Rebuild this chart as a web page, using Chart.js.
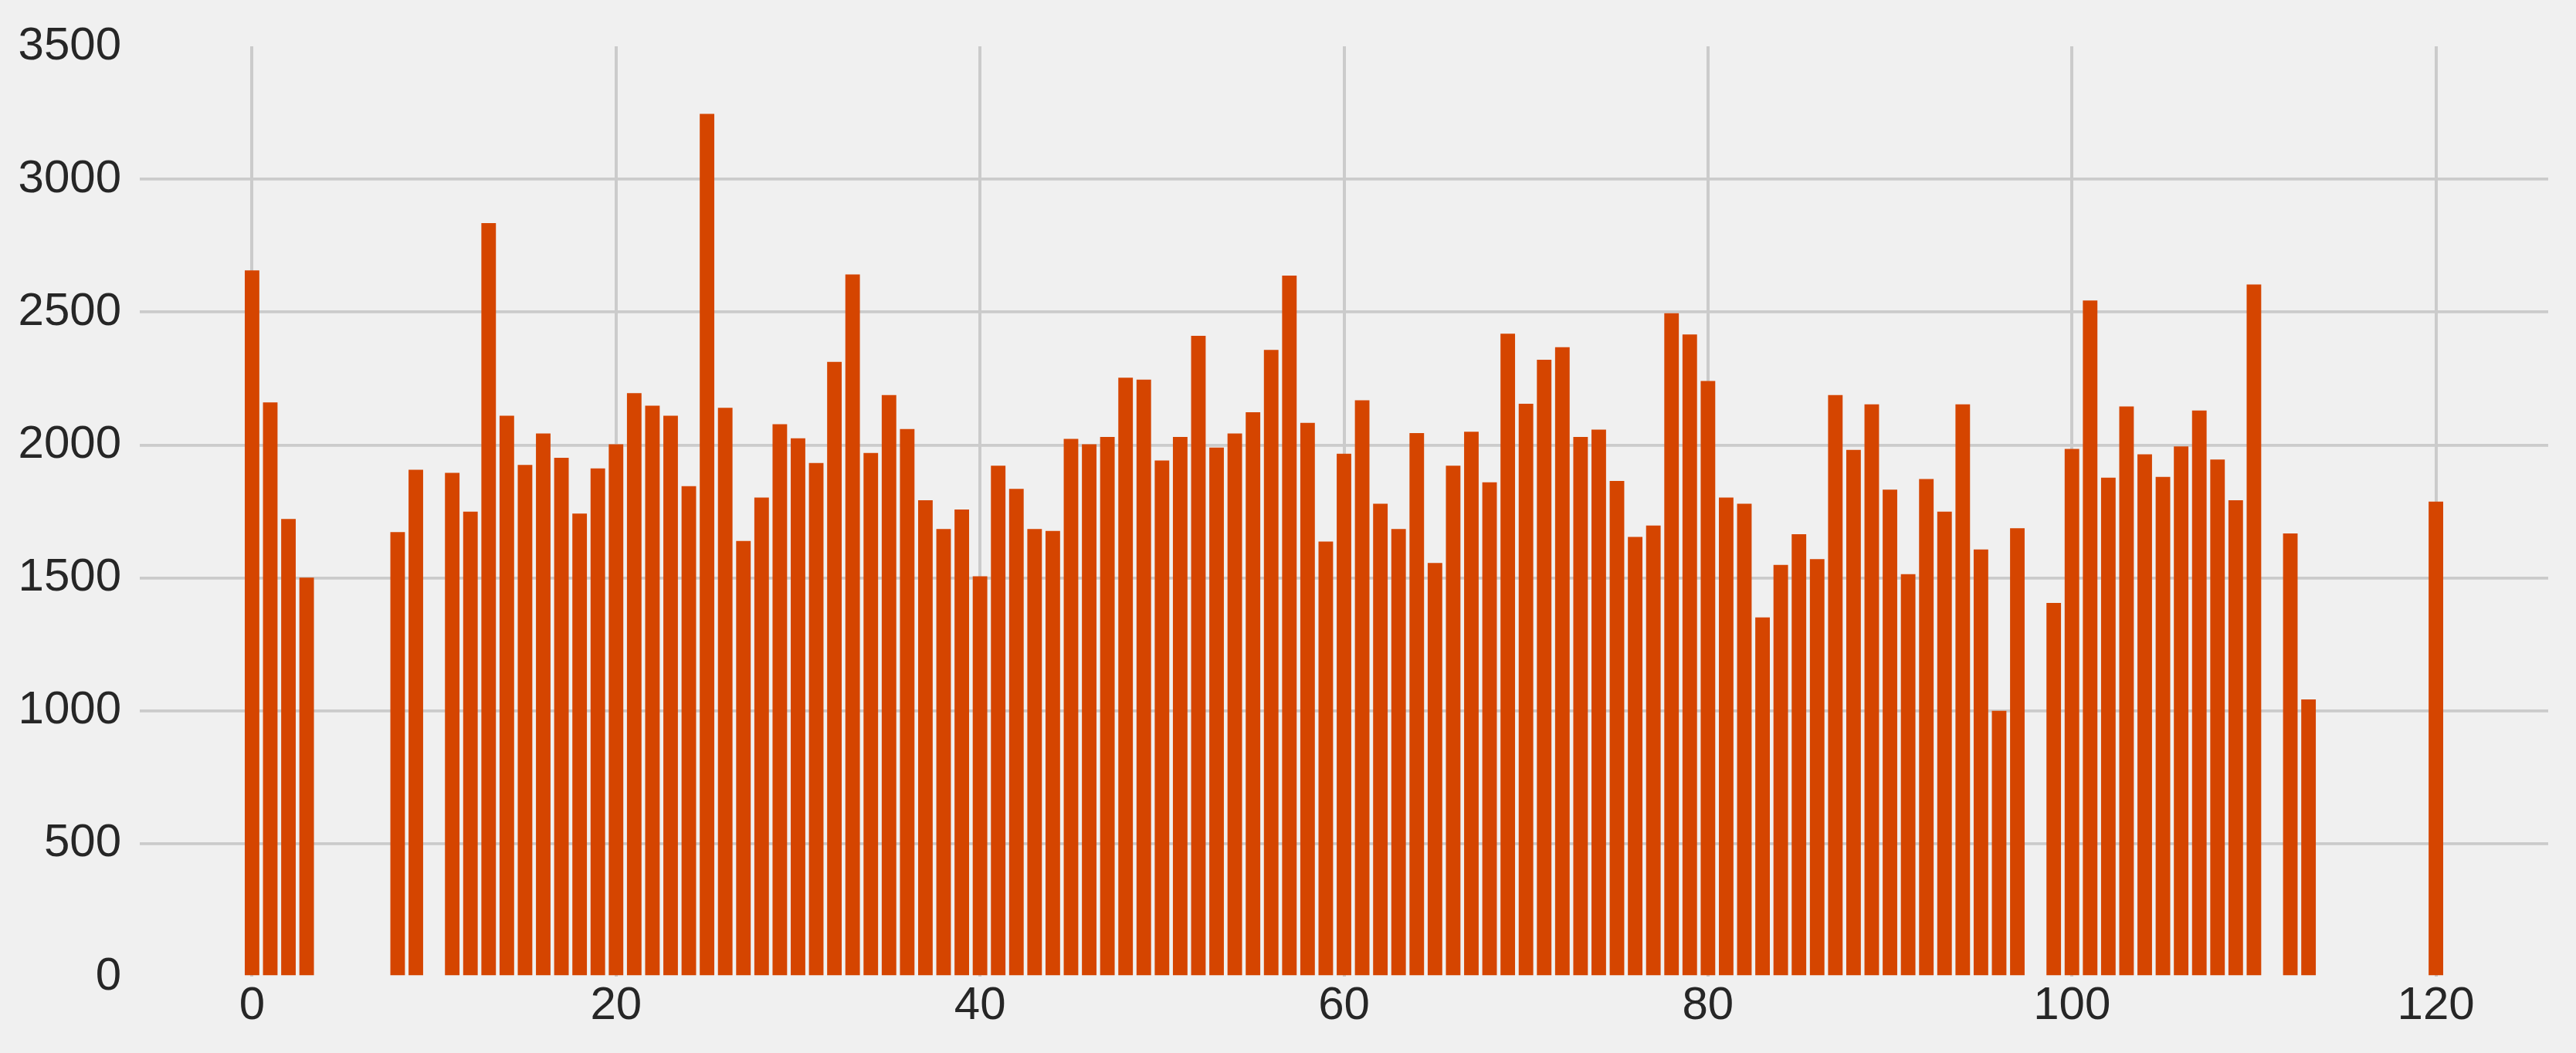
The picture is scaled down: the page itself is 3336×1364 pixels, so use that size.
<!DOCTYPE html>
<html>
<head>
<meta charset="utf-8">
<script src="https://cdn.jsdelivr.net/npm/chart.js@4"></script>
<style>
  html, body { margin: 0; padding: 0; background: #f0f0f0; }
  #chart { display: block; }
</style>
</head>
<body>
<canvas id="chart" width="3336" height="1364"></canvas>
<script>
// bar positions (gaps where there was no data) and the counts
const positions = [
  0, 1, 2, 3, 8, 9, 11, 12, 13, 14, 15, 16, 17, 18, 19, 20, 21, 22, 23, 24,
  25, 26, 27, 28, 29, 30, 31, 32, 33, 34, 35, 36, 37, 38, 39, 40, 41, 42, 43, 44,
  45, 46, 47, 48, 49, 50, 51, 52, 53, 54, 55, 56, 57, 58, 59, 60, 61, 62, 63, 64,
  65, 66, 67, 68, 69, 70, 71, 72, 73, 74, 75, 76, 77, 78, 79, 80, 81, 82, 83, 84,
  85, 86, 87, 88, 89, 90, 91, 92, 93, 94, 95, 96, 97, 99, 100, 101, 102, 103, 104, 105,
  106, 107, 108, 109, 110, 112, 113, 120
];
const counts = [
  2657, 2160, 1722, 1501, 1672, 1907, 1895, 1749, 2835, 2110, 1925, 2043, 1952, 1742, 1912, 2003, 2195, 2148, 2110, 1845,
  3246, 2140, 1639, 1802, 2078, 2025, 1932, 2313, 2642, 1970, 2188, 2060, 1792, 1684, 1757, 1506, 1922, 1835, 1684, 1677,
  2023, 2003, 2030, 2253, 2246, 1942, 2030, 2411, 1990, 2043, 2123, 2358, 2637, 2083, 1637, 1967, 2168, 1779, 1684, 2045,
  1556, 1922, 2050, 1860, 2419, 2155, 2321, 2368, 2030, 2058, 1865, 1654, 1697, 2496, 2416, 2241, 1802, 1779, 1351, 1549,
  1664, 1571, 2188, 1982, 2153, 1832, 1514, 1872, 1749, 2153, 1607, 1000, 1687, 1406, 1985, 2544, 1877, 2145, 1965, 1880,
  1995, 2130, 1945, 1792, 2604, 1667, 1043, 1787
];
const xTicks = [0, 20, 40, 60, 80, 100, 120];
const yTicks = [0, 500, 1000, 1500, 2000, 2500, 3000, 3500];

const BAR_COLOR = "#d54500";
const GRID_COLOR = "#cbcbcb";
const TEXT_COLOR = "#262626";
const FONT = { family: "'Liberation Sans', Arial, sans-serif", size: 60 };

function buildPoints() {
  return positions.map((x, i) => ({ x, y: counts[i] }));
}

function useTicks(values) {
  return scale => {
    scale.ticks = values.map(value => ({ value }));
  };
}

new Chart(document.getElementById("chart"), {
  type: "bar",
  data: {
    datasets: [
      {
        data: buildPoints(),
        backgroundColor: BAR_COLOR,
        borderWidth: 0,
        categoryPercentage: 1.0,
        barPercentage: 0.8
      }
    ]
  },
  options: {
    responsive: false,
    devicePixelRatio: 1,
    animation: false,
    layout: { padding: { left: 0, right: 36, top: 51, bottom: 0 } },
    plugins: {
      legend: { display: false },
      tooltip: { enabled: false }
    },
    scales: {
      x: {
        type: "linear",
        min: -6.17,
        max: 126.17,
        offset: false,
        afterBuildTicks: useTicks(xTicks),
        afterFit: scale => { scale.height = 99; },
        border: { display: false },
        grid: { color: GRID_COLOR, lineWidth: 4, drawTicks: false, offset: false },
        ticks: {
          color: TEXT_COLOR,
          font: FONT,
          padding: 2,
          maxRotation: 0,
          callback: value => String(value)
        }
      },
      y: {
        min: 0,
        max: 3500,
        afterBuildTicks: useTicks(yTicks),
        afterFit: scale => { scale.width = 181; },
        border: { display: false },
        grid: {
          color: ctx => (ctx.tick && (ctx.tick.value === 0 || ctx.tick.value === 3500)) ? "rgba(0,0,0,0)" : GRID_COLOR,
          lineWidth: 3.7,
          drawTicks: false
        },
        ticks: {
          color: TEXT_COLOR,
          font: FONT,
          padding: 24,
          callback: value => String(value)
        }
      }
    }
  }
});
</script>
</body>
</html>
